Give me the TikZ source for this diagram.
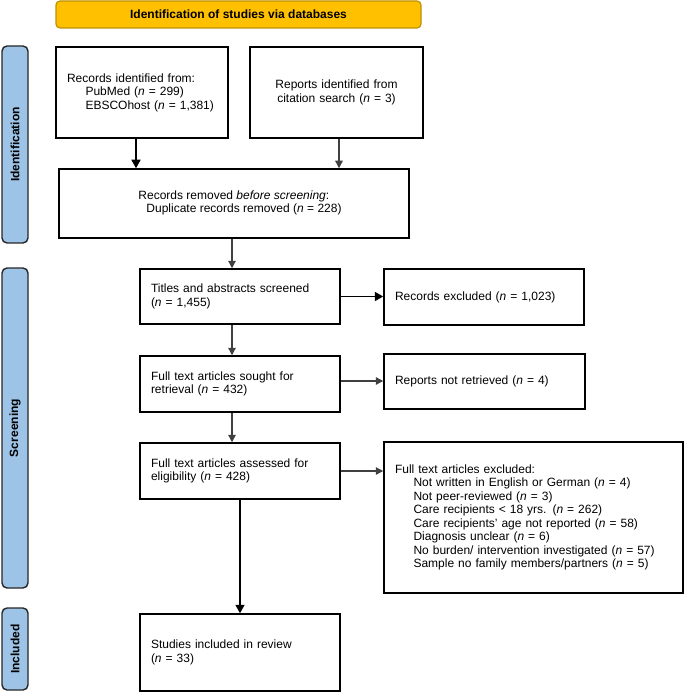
\documentclass[tikz,border=0pt]{standalone}
\usepackage{fontspec}
\setmainfont{Liberation Sans}
\usetikzlibrary{arrows.meta}
\definecolor{gold}{HTML}{FFC000}
\definecolor{golddark}{HTML}{BF9000}
\definecolor{sideblue}{HTML}{9DC3E6}
\definecolor{arrgray}{HTML}{404040}
\begin{document}
\begin{tikzpicture}[x=1pt, y=-1pt,
  font=\fontsize{12}{13.5}\selectfont,
  box/.style={draw=black, line width=1.5pt, inner xsep=11pt, inner ysep=0pt, align=left},
  side/.style={draw=black!85, fill=sideblue, line width=1.4pt, rounded corners=5pt, rotate=90,
    minimum height=26pt, inner sep=0pt, font=\bfseries\fontsize{12}{14}\selectfont},
  arr/.style={-{Triangle[length=7.5pt,width=7.5pt]}, line width=1.3pt, draw=arrgray, fill=arrgray},
  arrk/.style={-{Triangle[length=8.5pt,width=9pt]}, line width=1.7pt, draw=black, fill=black}]
\useasboundingbox (0,0) rectangle (685,692);

% banner
\node[draw=golddark, fill=gold, line width=1.2pt, rounded corners=4pt, minimum width=365pt,
  minimum height=27pt, font=\bfseries\fontsize{12}{14}\selectfont] (banner) at (238.5,14.5)
  {Identification of studies via databases};

% side bars
\node[side, minimum width=197pt] (sid) at (15,144.5) {Identification};
\node[side, minimum width=320pt] (ssc) at (15,428) {Screening};
\node[side, minimum width=82pt] (sin) at (15,649) {Included};

% boxes
\node[box, minimum height=91pt, text width=150pt] (rec) at (142,92.5)
  {Records identified from:\\\hspace*{18.5pt}PubMed (\textit{n} = 299)\\\hspace*{18.5pt}EBSCOhost (\textit{n} = 1,381)};
\node[box, align=center, minimum height=91pt, text width=151pt] (rep) at (336.5,92.5)
  {Reports identified from\\citation search (\textit{n} = 3)};
\node[box, minimum width=350pt, minimum height=69pt, inner xsep=0pt] (rem) at (234,203.5)
  {\hspace*{12pt}\begin{tabular}{@{}l@{}}Records removed \textit{before screening}:\\\hspace*{8pt}Duplicate records removed (\textit{n} = 228)\end{tabular}};
\node[box, minimum height=55pt, text width=178pt] (tit) at (240,296.5)
  {Titles and abstracts screened\\(\textit{n} = 1,455)};
\node[box, minimum height=56pt, text width=178pt] (exc) at (484,297)
  {Records excluded (\textit{n} = 1,023)};
\node[box, minimum height=56pt, text width=178pt] (sou) at (240,384)
  {Full text articles sought for\\retrieval (\textit{n} = 432)};
\node[box, minimum height=55pt, text width=179pt] (nre) at (484.5,381.5)
  {Reports not retrieved (\textit{n} = 4)};
\node[box, minimum height=56pt, text width=178pt] (ass) at (240,471)
  {Full text articles assessed for\\eligibility (\textit{n} = 428)};
\node[box, minimum height=151pt, text width=277pt] (fex) at (533.5,517.5)
  {Full text articles excluded:\\
   \hspace*{18.5pt}Not written in English or German (\textit{n} = 4)\\
   \hspace*{18.5pt}Not peer-reviewed (\textit{n} = 3)\\
   \hspace*{18.5pt}Care recipients < 18 yrs. (\textit{n} = 262)\\
   \hspace*{18.5pt}Care recipients’ age not reported (\textit{n} = 58)\\
   \hspace*{18.5pt}Diagnosis unclear (\textit{n} = 6)\\
   \hspace*{18.5pt}No burden/ intervention investigated (\textit{n} = 57)\\
   \hspace*{18.5pt}Sample no family members/partners (\textit{n} = 5)};
\node[box, minimum height=77pt, text width=178pt] (inc) at (240,652.5)
  {Studies included in review\\(\textit{n} = 33)};

% connector x positions
\coordinate (xa) at (136,0);
\coordinate (xb) at (339,0);
\coordinate (xc) at (232,0);
\coordinate (xd) at (240,0);

\draw[arrk] (rec.south -| xa) -- (rem.north -| xa);
\draw[arr] (rep.south -| xb) -- (rem.north -| xb);
\draw[arr] (rem.south -| xc) -- (tit.north -| xc);
\draw[arr] (tit.south -| xc) -- (sou.north -| xc);
\draw[arr] (sou.south -| xc) -- (ass.north -| xc);
\draw[arrk] (ass.south -| xd) -- (inc.north -| xd);
\draw[arrk] (tit.east) -- (exc.west |- tit.east);
\draw[arr] ([yshift=3pt]sou.east) coordinate (s1) -- (nre.west |- s1);
\draw[arr] (ass.east) -- (fex.west |- ass.east);
\end{tikzpicture}
\end{document}
